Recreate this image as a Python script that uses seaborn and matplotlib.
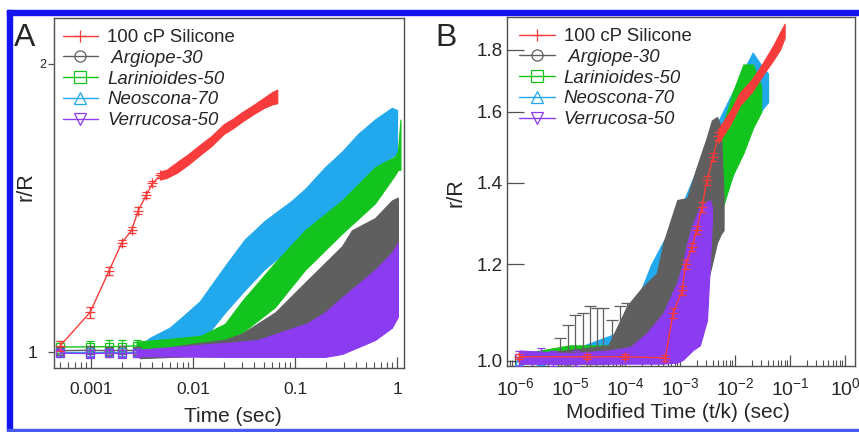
import matplotlib
matplotlib.use('Agg')
import matplotlib.pyplot as plt
import matplotlib.ticker as mticker
from matplotlib.lines import Line2D
from matplotlib.patches import Rectangle
import seaborn as sns

sns.set_theme(style='ticks')
plt.rcParams['font.family'] = ['Liberation Sans', 'DejaVu Sans']
plt.rcParams['mathtext.fontset'] = 'custom'
plt.rcParams['mathtext.rm'] = 'Liberation Sans'
plt.rcParams['mathtext.it'] = 'Liberation Sans:italic'

RED = '#f83c3c'
GRAY = '#5f5f5f'
GREEN = '#14c41e'
BLUE = '#22a8ec'
PURPLE = '#8c3cf0'

labels = ['100 cP Silicone', ' Argiope-30', 'Larinioides-50', 'Neoscona-70', 'Verrucosa-50']

# ---------------- Panel A : r/R vs time (sec) ----------------
# silicone, sparse points with error bars
sil_a_t = [0.0005, 0.00098, 0.0015, 0.002, 0.0025, 0.0029, 0.0035, 0.004, 0.0048]
sil_a_r = [1.015, 1.10, 1.215, 1.30, 1.34, 1.405, 1.46, 1.50, 1.53]
sil_a_err = [0.012, 0.015, 0.012, 0.01, 0.01, 0.012, 0.01, 0.01, 0.01]
# silicone, dense part (band = error bars)
sil_a_band_t = [0.0048, 0.0055, 0.007, 0.009, 0.012, 0.015, 0.02, 0.025, 0.03, 0.04, 0.05, 0.06, 0.067]
sil_a_band_lo = [1.515, 1.52, 1.54, 1.57, 1.61, 1.64, 1.69, 1.715, 1.74, 1.775, 1.80, 1.815, 1.82]
sil_a_band_hi = [1.545, 1.55, 1.58, 1.61, 1.65, 1.68, 1.73, 1.755, 1.78, 1.815, 1.845, 1.87, 1.88]

# early sparse points of the spider glues
early_a_t = [0.0005, 0.00098, 0.0015, 0.002, 0.0028]
arg_a_r = [1.003, 1.004, 1.003, 1.004, 1.003]
lar_a_r = [1.012, 1.012, 1.013, 1.013, 1.015]
neo_a_r = [1.0, 1.0, 1.0, 1.0, 1.0]
ver_a_r = [0.997, 0.996, 0.997, 0.996, 0.997]
arg_a_err = [0.01, 0.01, 0.01, 0.01, 0.01]
lar_a_err = [0.015, 0.015, 0.015, 0.015, 0.015]
neo_a_err = [0.01, 0.01, 0.01, 0.01, 0.01]
ver_a_err = [0.008, 0.008, 0.008, 0.008, 0.008]

neo_a_t = [0.0028, 0.0038, 0.0059, 0.008, 0.0117, 0.0206, 0.032, 0.05, 0.0935, 0.125, 0.197, 0.289, 0.415, 0.608, 0.89, 1.0]
neo_a_hi = [1.01, 1.035, 1.06, 1.09, 1.13, 1.23, 1.31, 1.37, 1.44, 1.48, 1.56, 1.62, 1.69, 1.75, 1.80, 1.79]
neo_a_lo = [0.993, 0.993, 0.995, 0.995, 1.02, 1.10, 1.16, 1.22, 1.29, 1.33, 1.38, 1.43, 1.47, 1.54, 1.60, 1.61]

lar_a_t = [0.0028, 0.008, 0.012, 0.0206, 0.0302, 0.0637, 0.125, 0.289, 0.608, 0.95, 1.02, 1.08]
lar_a_hi = [1.025, 1.035, 1.04, 1.07, 1.13, 1.24, 1.34, 1.44, 1.56, 1.60, 1.62, 1.75]
lar_a_lo = [1.0, 1.0, 1.005, 1.03, 1.047, 1.114, 1.218, 1.33, 1.43, 1.53, 1.55, 1.55]

arg_a_t = [0.003, 0.01, 0.0206, 0.0302, 0.064, 0.134, 0.289, 0.36, 0.608, 0.89, 1.02]
arg_a_hi = [1.0, 1.02, 1.03, 1.045, 1.10, 1.19, 1.29, 1.34, 1.38, 1.44, 1.45]
arg_a_lo = [0.985, 0.99, 0.99, 0.995, 1.0, 1.01, 1.03, 1.04, 1.06, 1.10, 1.12]

ver_a_t = [0.0028, 0.0206, 0.043, 0.134, 0.197, 0.289, 0.608, 0.89, 1.02]
ver_a_hi = [1.005, 1.022, 1.029, 1.072, 1.10, 1.14, 1.218, 1.27, 1.30]
ver_a_lo = [0.99, 0.988, 0.988, 0.988, 0.988, 0.995, 1.029, 1.06, 1.088]

# ---------------- Panel B : r/R vs modified time t/k ----------------
sil_b_t = [1.2e-6, 2e-5, 1e-4, 5.4e-4, 7.5e-4, 1.1e-3, 1.26e-3, 1.65e-3, 2.0e-3, 2.5e-3, 3.1e-3, 4.0e-3, 5.0e-3]
sil_b_r = [1.008, 1.008, 1.008, 1.006, 1.095, 1.143, 1.20, 1.24, 1.28, 1.337, 1.407, 1.47, 1.53]
sil_b_err = [0.005, 0.005, 0.005, 0.006, 0.01, 0.01, 0.01, 0.01, 0.01, 0.012, 0.012, 0.012, 0.012]
sil_b_band_t = [5e-3, 8e-3, 0.0123, 0.02, 0.032, 0.05, 0.066, 0.08]
sil_b_band_lo = [1.51, 1.56, 1.62, 1.66, 1.715, 1.765, 1.80, 1.84]
sil_b_band_hi = [1.55, 1.60, 1.66, 1.70, 1.755, 1.815, 1.86, 1.89]

arg_b_pts_t = [6.6e-6, 9.2e-6, 1.23e-5, 1.7e-5, 2.3e-5, 3.1e-5, 4e-5, 5.8e-5, 8e-5, 1.1e-4]
arg_b_pts_r = [1.02, 1.03, 1.04, 1.05, 1.05, 1.05, 1.06, 1.04, 1.06, 1.07]
arg_b_pts_err = [0.025, 0.04, 0.05, 0.045, 0.06, 0.055, 0.045, 0.04, 0.05, 0.045]
arg_b_t = [1.2e-6, 5e-5, 1.1e-4, 2.1e-4, 3.8e-4, 5e-4, 8.9e-4, 1.35e-3, 2e-3, 3e-3, 3.8e-3, 4.7e-3, 5.5e-3, 6.2e-3]
arg_b_hi = [1.01, 1.03, 1.11, 1.15, 1.18, 1.25, 1.355, 1.36, 1.44, 1.52, 1.575, 1.585, 1.56, 1.36]
arg_b_lo = [0.995, 0.995, 1.0, 1.0, 1.0, 1.01, 1.02, 1.05, 1.1, 1.15, 1.2, 1.25, 1.27, 1.28]

lar_b_pts_t = [1.5e-6, 8e-6]
lar_b_pts_r = [1.01, 1.02]
lar_b_t = [1.5e-6, 1e-5, 1e-4, 5e-4, 1e-3, 2e-3, 3e-3, 4.7e-3, 6e-3, 9.1e-3, 0.0142, 0.0213, 0.03]
lar_b_lo = [1.0, 1.0, 1.0, 1.01, 1.05, 1.1, 1.18, 1.3, 1.337, 1.42, 1.48, 1.553, 1.60]
lar_b_hi = [1.015, 1.03, 1.03, 1.05, 1.2, 1.3, 1.4, 1.51, 1.56, 1.66, 1.75, 1.75, 1.68]

neo_b_pts_t = [1.2e-6, 3e-6]
neo_b_pts_r = [1.0, 1.0]
neo_b_t = [1.5e-6, 1e-5, 1e-4, 3e-4, 1e-3, 3e-3, 6e-3, 0.0142, 0.021, 0.032, 0.040]
neo_b_lo = [1.0, 1.0, 1.0, 1.02, 1.08, 1.2, 1.35, 1.5, 1.56, 1.61, 1.63]
neo_b_hi = [1.01, 1.02, 1.06, 1.2, 1.33, 1.5, 1.6, 1.73, 1.79, 1.74, 1.72]

ver_b_pts_t = [1.2e-6, 2e-6, 3e-6, 5e-6, 8e-6, 1.3e-5]
ver_b_pts_r = [1.005, 1.0, 1.01, 1.005, 1.0, 1.005]
ver_b_pts_err = [0.015, 0.015, 0.015, 0.015, 0.015, 0.015]
ver_b_t = [1.2e-6, 1e-5, 5e-5, 1.26e-4, 2.5e-4, 5e-4, 8.9e-4, 1.12e-3, 1.35e-3, 1.73e-3, 2.3e-3, 3.1e-3, 3.5e-3, 3.8e-3]
ver_b_hi = [1.02, 1.015, 1.02, 1.027, 1.054, 1.095, 1.16, 1.2, 1.25, 1.297, 1.338, 1.35, 1.355, 1.338]
ver_b_lo = [0.995, 0.995, 0.995, 0.995, 0.995, 0.995, 0.997, 1.002, 1.01, 1.021, 1.03, 1.08, 1.2, 1.3]

# axes ticks
a_xticks = [0.001, 0.01, 0.1, 1]
a_xticklabels = ['0.001', '0.01', '0.1', '1']
a_yticks = [1, 2]
a_yticklabels = ['1', '2']
b_xticks = [1e-6, 1e-5, 1e-4, 1e-3, 1e-2, 1e-1, 1]
b_yticks = [1.0, 1.2, 1.4, 1.6, 1.8]
b_yticklabels = ['1.0', '1.2', '1.4', '1.6', '1.8']

SPINE = '#505050'


def band(ax, t, lo, hi, color, z):
    ax.fill_between(t, lo, hi, color=color, edgecolor=color, lw=0.8, zorder=z)


def points(ax, t, r, err, color, marker, z, ms=6):
    ax.errorbar(t, r, yerr=err, fmt='none', ecolor=color, elinewidth=0.9,
                capsize=3, capthick=0.9, zorder=z)
    sns.lineplot(x=t, y=r, ax=ax, color=color, marker=marker, markersize=ms,
                 markerfacecolor='none', markeredgecolor=color, markeredgewidth=0.9,
                 lw=1, estimator=None, sort=False, zorder=z, legend=False)


fig = plt.figure(figsize=(8.59, 4.32), dpi=100)
fig.patch.set_facecolor('white')
axA = fig.add_axes([54 / 859, 64 / 432, 350 / 859, 350 / 432])
axB = fig.add_axes([507 / 859, 66 / 432, 348 / 859, 349 / 432])

# ----- panel A -----
band(axA, neo_a_t, neo_a_lo, neo_a_hi, BLUE, 2)
band(axA, lar_a_t, lar_a_lo, lar_a_hi, GREEN, 3)
band(axA, arg_a_t, arg_a_lo, arg_a_hi, GRAY, 4)
band(axA, ver_a_t, ver_a_lo, ver_a_hi, PURPLE, 5)
points(axA, early_a_t, arg_a_r, arg_a_err, GRAY, 'o', 4)
points(axA, early_a_t, lar_a_r, lar_a_err, GREEN, 's', 3)
points(axA, early_a_t, neo_a_r, neo_a_err, BLUE, 's', 3)
points(axA, early_a_t, ver_a_r, ver_a_err, PURPLE, 's', 5)
band(axA, sil_a_band_t, sil_a_band_lo, sil_a_band_hi, RED, 6)
points(axA, sil_a_t, sil_a_r, sil_a_err, RED, '+', 6, ms=7)

# ----- panel B -----
band(axB, neo_b_t, neo_b_lo, neo_b_hi, BLUE, 2)
band(axB, lar_b_t, lar_b_lo, lar_b_hi, GREEN, 3)
band(axB, arg_b_t, arg_b_lo, arg_b_hi, GRAY, 4)
axB.errorbar(arg_b_pts_t, arg_b_pts_r, yerr=arg_b_pts_err, fmt='none', ecolor=GRAY,
             elinewidth=0.9, capsize=4, capthick=0.9, zorder=4)
axB.plot(lar_b_pts_t, lar_b_pts_r, marker='s', ms=6, mfc='none', color=GREEN, lw=1, zorder=3)
axB.plot(neo_b_pts_t, neo_b_pts_r, marker='^', ms=6, mfc='none', color=BLUE, lw=1, zorder=3)
band(axB, ver_b_t, ver_b_lo, ver_b_hi, PURPLE, 5)
points(axB, ver_b_pts_t, ver_b_pts_r, ver_b_pts_err, PURPLE, 'v', 5)
band(axB, sil_b_band_t, sil_b_band_lo, sil_b_band_hi, RED, 6)
points(axB, sil_b_t, sil_b_r, sil_b_err, RED, '+', 6, ms=7)

# ----- axes styling -----
for ax in (axA, axB):
    ax.set_xscale('log')
    ax.set_yscale('log')
    for s in ax.spines.values():
        s.set_color(SPINE)
        s.set_linewidth(1.0)
        s.set_visible(True)
    ax.set_facecolor('white')
    ax.yaxis.set_minor_locator(mticker.NullLocator())
    ax.tick_params(axis='x', which='major', direction='in', length=8, width=0.9,
                   color=SPINE, labelsize=12.5, pad=10)
    ax.tick_params(axis='x', which='minor', direction='in', length=4, width=0.8, color=SPINE)

axA.set_xlim(4.34e-4, 1.17)
axA.set_ylim(0.962, 2.234)
axA.xaxis.set_major_locator(mticker.FixedLocator(a_xticks))
axA.xaxis.set_major_formatter(mticker.FixedFormatter(a_xticklabels))
axA.xaxis.set_minor_locator(mticker.LogLocator(base=10, subs=[2, 3, 4, 5, 6, 7, 8, 9], numticks=50))
axA.xaxis.set_minor_formatter(mticker.NullFormatter())
axA.yaxis.set_major_locator(mticker.FixedLocator(a_yticks))
axA.yaxis.set_major_formatter(mticker.FixedFormatter(a_yticklabels))
axA.tick_params(axis='y', direction='out', length=4, width=0.9, color=SPINE, labelsize=12.5, pad=8)
ytk = axA.yaxis.get_major_ticks()
ytk[1].set_pad(1.5)
ytk[1].label1.set_fontsize(9)
axA.set_xlabel('Time (sec)', fontsize=15)
axA.set_ylabel('r/R', fontsize=15.5)
axA.xaxis.set_label_coords(0.511, -0.112)
axA.yaxis.set_label_coords(-0.05, 0.517)

axB.set_xlim(7.16e-7, 1.52)
axB.set_ylim(0.9906, 1.914)
axB.xaxis.set_major_locator(mticker.FixedLocator(b_xticks))
axB.xaxis.set_major_formatter(mticker.LogFormatterSciNotation())
axB.xaxis.set_minor_locator(mticker.LogLocator(base=10, subs=[2, 3, 4, 5, 6, 7, 8, 9], numticks=100))
axB.xaxis.set_minor_formatter(mticker.NullFormatter())
axB.yaxis.set_major_locator(mticker.FixedLocator(b_yticks))
axB.yaxis.set_major_formatter(mticker.FixedFormatter(b_yticklabels))
axB.tick_params(axis='y', direction='in', length=12, width=0.9, color=SPINE, labelsize=13.5, pad=3)
axB.tick_params(axis='x', which='major', pad=8, labelsize=14)
axB.set_xlabel('Modified Time (t/k) (sec)', fontsize=15)
axB.set_ylabel('r/R', fontsize=15.5)
axB.xaxis.set_label_coords(0.49, -0.105)
axB.yaxis.set_label_coords(-0.115, 0.496)

# ----- legends -----
colors = [RED, GRAY, GREEN, BLUE, PURPLE]
markers = ['+', 'o', 's', '^', 'v']
handles = [Line2D([0], [0], color=c, marker=m, ms=8, mfc='none', mec=c, mew=0.9, lw=1.0)
           for c, m in zip(colors, markers)]
for ax, xoff in ((axA, 0.025), (axB, 0.035)):
    leg = ax.legend(handles, labels, loc='upper left', bbox_to_anchor=(xoff, 0.968),
                    frameon=False, fontsize=13.4, labelspacing=0.2, handlelength=1.9,
                    handletextpad=0.5, borderpad=0, borderaxespad=0)
    leg.set_zorder(10)
    for txt in leg.get_texts()[1:]:
        txt.set_fontstyle('italic')

# panel letters
fig.text(14 / 859, 1 - 23 / 432, 'A', fontsize=23, va='top', ha='left')
fig.text(435 / 859, 1 - 23 / 432, 'B', fontsize=23, va='top', ha='left')

# blue frame around the figure
FRAME = '#1414f0'
fig.patches.append(Rectangle((7 / 859, 0), 5 / 859, 1 - 10 / 432, transform=fig.transFigure,
                             color=FRAME, zorder=20))
fig.patches.append(Rectangle((7 / 859, 1 - 15 / 432), 1, 5 / 432, transform=fig.transFigure,
                             color=FRAME, zorder=20))
fig.patches.append(Rectangle((7 / 859, 1 / 432), 1, 2 / 432, transform=fig.transFigure,
                             color='#4a5af0', zorder=20))

fig.savefig('out.png', dpi=100)
